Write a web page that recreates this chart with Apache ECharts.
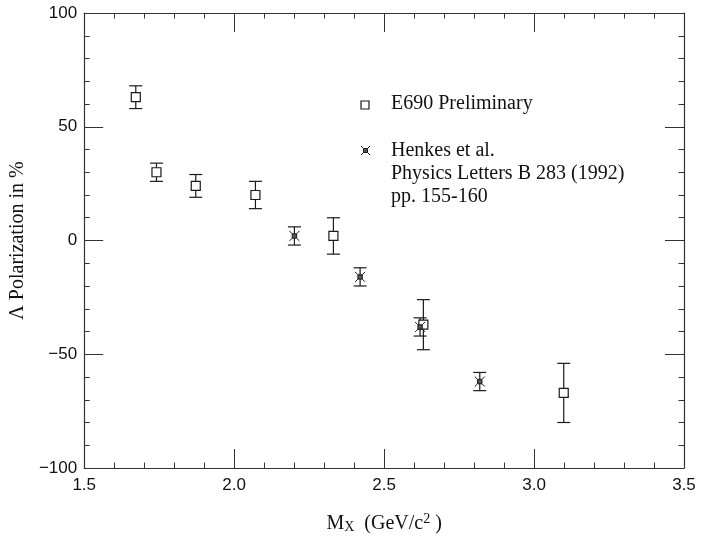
<!DOCTYPE html>
<html>
<head>
<meta charset="utf-8">
<script src="https://cdn.jsdelivr.net/npm/echarts@6/dist/echarts.min.js"></script>
<style>html,body{margin:0;padding:0;background:#fff}#c{width:713px;height:544px}</style>
</head>
<body>
<div id="c"></div>
<script>
// E690 Preliminary (squares)
const e690X = [1.672, 1.741, 1.872, 2.071, 2.331, 2.631, 3.099];
const e690Y = [63, 30, 24, 20, 2, -37, -67];
const e690Err = [5, 4, 5, 6, 8, 11, 13];
// Henkes et al. (crossed squares)
const henkesX = [2.201, 2.420, 2.620, 2.819];
const henkesY = [2, -16, -38, -62];
const henkesErr = [4, 4, 4, 4];
// axis ticks
const xTicks = [1.5, 2.0, 2.5, 3.0, 3.5];
const yTicks = [-100, -50, 0, 50, 100];

const ink = '#1a1a1a';
const henkesPath = 'path://M2.8,2.8L7.2,2.8L7.2,7.2L2.8,7.2Z M0,0L2.8,2.8 M10,0L7.2,2.8 M0,10L2.8,7.2 M10,10L7.2,7.2';

function rows(xs, ys, es) { return xs.map((x, i) => [x, ys[i], es[i]]); }

function errorBar(params, api) {
  const x = api.value(0), y = api.value(1), e = api.value(2);
  const t = api.coord([x, y + e]);
  const b = api.coord([x, y - e]);
  const hw = 6.5;
  const st = { stroke: ink, lineWidth: 1.2 };
  return {
    type: 'group',
    children: [
      { type: 'line', shape: { x1: t[0], y1: t[1], x2: b[0], y2: b[1] }, style: st },
      { type: 'line', shape: { x1: t[0] - hw, y1: t[1], x2: t[0] + hw, y2: t[1] }, style: st },
      { type: 'line', shape: { x1: b[0] - hw, y1: b[1], x2: b[0] + hw, y2: b[1] }, style: st }
    ]
  };
}

const axisLine = { show: true, onZero: false, lineStyle: { color: '#333', width: 1.2 } };
function xAx(pos, labels) {
  return {
    type: 'value', position: pos, min: xTicks[0], max: xTicks[xTicks.length - 1], interval: 0.5,
    axisLine: axisLine,
    axisTick: { show: true, inside: true, length: 19, lineStyle: { color: '#333', width: 1 } },
    minorTick: { show: true, splitNumber: 5, length: 5.5, lineStyle: { color: '#333', width: 1 } },
    splitLine: { show: false }, minorSplitLine: { show: false },
    axisLabel: labels ? { show: true, margin: 9, color: '#111', fontFamily: 'Liberation Sans', fontSize: 17,
      formatter: v => v.toFixed(1) } : { show: false },
    name: labels ? '{m|M}{sub|X}{m|  (GeV/c}{sup|2}{m| )}' : '',
    nameLocation: 'middle', nameGap: 42,
    nameTextStyle: {
      rich: {
        m: { fontFamily: 'Liberation Serif', fontSize: 20, color: '#111', lineHeight: 24, verticalAlign: 'bottom' },
        sub: { fontFamily: 'Liberation Serif', fontSize: 14, color: '#111', lineHeight: 24, verticalAlign: 'bottom' },
        sup: { fontFamily: 'Liberation Serif', fontSize: 14, color: '#111', lineHeight: 24, verticalAlign: 'top', padding: [2, 0, 0, 0] }
      }
    }
  };
}
function yAx(pos, labels) {
  return {
    type: 'value', position: pos, min: yTicks[0], max: yTicks[yTicks.length - 1], interval: 50,
    axisLine: axisLine,
    axisTick: { show: true, inside: true, length: 19, lineStyle: { color: '#333', width: 1 } },
    minorTick: { show: true, splitNumber: 5, length: 5.5, lineStyle: { color: '#333', width: 1 } },
    splitLine: { show: false }, minorSplitLine: { show: false },
    axisLabel: labels ? { show: true, margin: 7, color: '#111', fontFamily: 'Liberation Sans', fontSize: 17,
      formatter: v => String(v).replace('-', '\u2212') } : { show: false },
    name: labels ? 'Λ Polarization in %' : '',
    nameLocation: 'middle', nameGap: 40,
    nameTextStyle: { fontFamily: 'Liberation Serif', fontSize: 20, color: '#111' }
  };
}

const lst = { stroke: ink, lineWidth: 1 };
const chart = echarts.init(document.getElementById('c'), null, { renderer: 'canvas' });
chart.setOption({
  animation: false,
  backgroundColor: '#fff',
  grid: { left: 78, right: 29, top: 13, bottom: 76, containLabel: false },
  xAxis: [xAx('bottom', true), xAx('top', false)],
  yAxis: [yAx('left', true), yAx('right', false)],
  series: [
    { type: 'custom', name: 'e690err', renderItem: errorBar, data: rows(e690X, e690Y, e690Err), z: 2 },
    { type: 'custom', name: 'henkeserr', renderItem: errorBar, data: rows(henkesX, henkesY, henkesErr), z: 2 },
    { type: 'scatter', name: 'E690 Preliminary', data: rows(e690X, e690Y, e690Err), symbol: 'rect', symbolSize: 9,
      itemStyle: { color: '#fff', borderColor: ink, borderWidth: 1.2, opacity: 1 }, z: 3 },
    { type: 'scatter', name: 'Henkes et al.', data: rows(henkesX, henkesY, henkesErr), symbol: henkesPath, symbolSize: 10,
      itemStyle: { color: '#555', borderColor: ink, borderWidth: 1, opacity: 1 }, z: 4 }
  ],
  graphic: [
    { type: 'rect', shape: { x: 361, y: 101, width: 8, height: 8 }, style: { fill: '#fff', stroke: ink, lineWidth: 1.2 } },
    { type: 'text', x: 391, y: 104, style: { text: 'E690 Preliminary', font: '20px "Liberation Serif"', fill: '#111', textVerticalAlign: 'middle' } },
    { type: 'group', x: 361, y: 146, children: [
      { type: 'rect', shape: { x: 2.5, y: 2.5, width: 4, height: 4 }, style: { fill: '#555', stroke: ink, lineWidth: 1 } },
      { type: 'line', shape: { x1: 0, y1: 0, x2: 2.5, y2: 2.5 }, style: lst },
      { type: 'line', shape: { x1: 9, y1: 0, x2: 6.5, y2: 2.5 }, style: lst },
      { type: 'line', shape: { x1: 0, y1: 9, x2: 2.5, y2: 6.5 }, style: lst },
      { type: 'line', shape: { x1: 9, y1: 9, x2: 6.5, y2: 6.5 }, style: lst }
    ] },
    { type: 'text', x: 391, y: 139, style: { text: 'Henkes et al.\nPhysics Letters B 283 (1992)\npp. 155-160', font: '20px "Liberation Serif"', lineHeight: 23, fill: '#111', textVerticalAlign: 'top' } }
  ]
});
</script>
</body>
</html>
